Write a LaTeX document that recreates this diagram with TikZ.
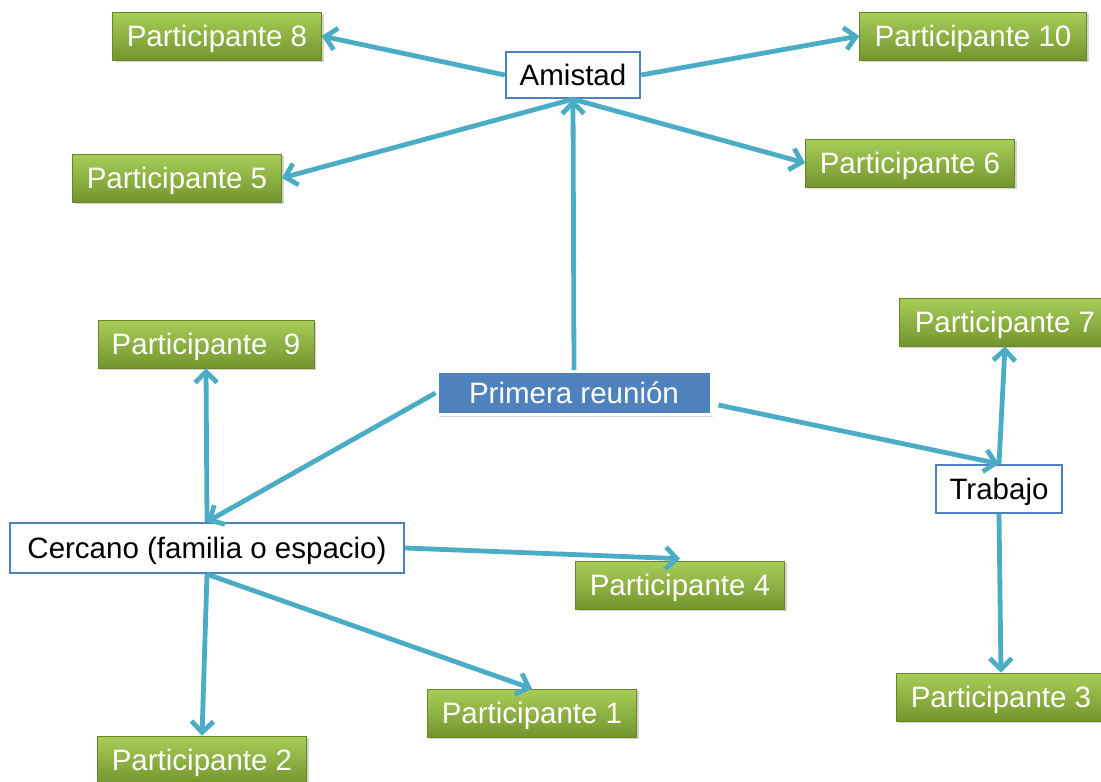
\documentclass[tikz,border=0pt]{standalone}
\usepackage{fontspec}
\setmainfont{Liberation Sans}
\usetikzlibrary{arrows.meta,shadows,shadings}
\definecolor{linkblue}{RGB}{75,172,198}
\definecolor{boxblue}{RGB}{79,129,189}
\definecolor{greentop}{RGB}{168,206,88}
\definecolor{greenbot}{RGB}{116,148,46}
\definecolor{greenedge}{RGB}{104,134,40}
\tikzset{
  x=1pt, y=-1pt,
  every node/.style={font=\fontsize{29.5}{34}\selectfont, inner sep=0pt, align=center,
    text height=27pt, text depth=6pt},
  participant/.style={minimum width=209pt, minimum height=48pt,
    top color=greentop, bottom color=greenbot, draw=greenedge, line width=0.6pt,
    text=white, drop shadow={shadow xshift=2pt, shadow yshift=-2pt, opacity=0.35}},
  category/.style={minimum height=46pt, draw=boxblue, line width=2.4pt, fill=white, text=black},
  meeting/.style={minimum width=274pt, minimum height=43pt, fill=boxblue, draw=white,
    line width=3pt, text=white,
    drop shadow={shadow xshift=1.5pt, shadow yshift=-2pt, opacity=0.3}},
  link/.style={draw=linkblue, line width=4.8pt,
    -{Straight Barb[length=11pt, width=22pt, line width=4.8pt]}},
}
\begin{document}
\begin{tikzpicture}
\useasboundingbox (0,0) rectangle (1101,782);
\clip (0,0) rectangle (1101,782);

% central meeting node
\node[meeting] (pr) at (574,393) {Primera reunión};

% categories
\node[category, minimum width=134pt] (am) at (573,75) {Amistad};
\node[category, minimum width=126pt, minimum height=48pt] (tr) at (999,489) {Trabajo};
\node[category, minimum width=394pt, minimum height=50pt] (ce) at (207,548) {Cercano (familia o espacio)};

% participants
\node[participant] (p8) at (217,36) {Participante 8};
\node[participant, minimum width=227pt] (p10) at (973,36) {Participante 10};
\node[participant] (p5) at (177,178) {Participante 5};
\node[participant] (p6) at (910,163) {Participante 6};
\node[participant, minimum width=216pt] (p9) at (206,344) {Participante \ 9};
\node[participant, minimum width=212pt] (p7) at (1005,322) {Participante 7};
\node[participant] (p4) at (680,585) {Participante 4};
\node[participant] (p1) at (532,713) {Participante 1};
\node[participant] (p2) at (202,760) {Participante 2};
\node[participant, minimum width=210pt] (p3) at (1001,697) {Participante 3};

% connectors
\draw[link] (pr.north) -- (am.south);
\draw[link] (am.west) -- (p8.east);
\draw[link] (am.east) -- (p10.west);
\draw[link] (am.south) -- (p5.east);
\draw[link] (am.south) -- (p6.west);

\draw[link] (pr.west) -- (ce.north);
\draw[link] ([xshift=6pt,yshift=-12pt]pr.east) -- (tr.north);

\draw[link] (tr.north) -- (p7.south);
\draw[link] (tr.south) -- (p3.north);

\draw[link] (ce.north) -- (p9.south);
\draw[link] (ce.east) -- ([yshift=2pt]p4.north);
\draw[link] (ce.south) -- (p1.north);
\draw[link] (ce.south) -- (p2.north);
\end{tikzpicture}
\end{document}
